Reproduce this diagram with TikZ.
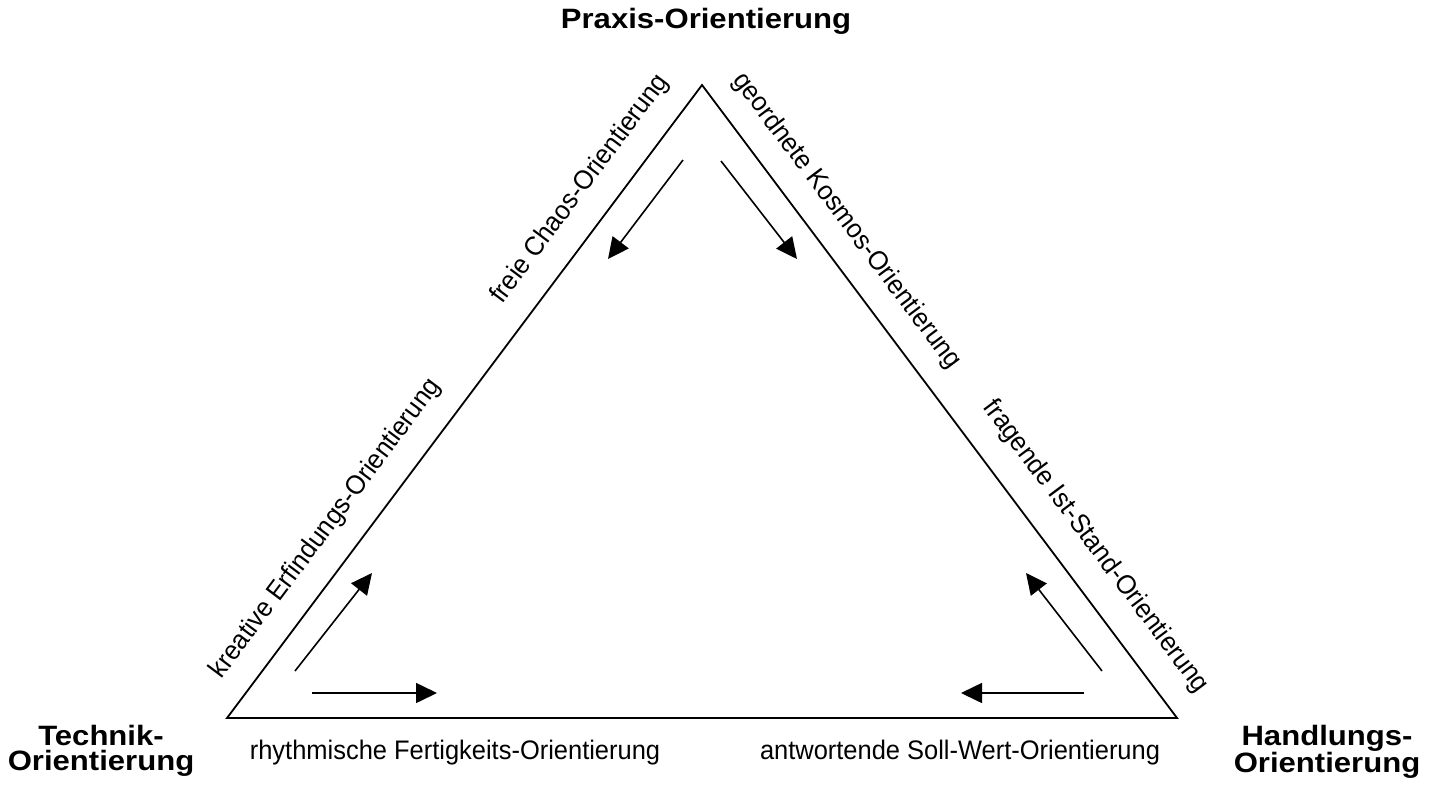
\documentclass[tikz,border=0pt]{standalone}
\usepackage{fontspec}
\setmainfont{Liberation Sans}
\newfontfamily\labfont[FakeStretch=0.95]{Liberation Sans}
\newfontfamily\headfont[FakeStretch=1.11]{Liberation Sans}
\usetikzlibrary{arrows.meta}
\begin{document}
\begin{tikzpicture}[x=1pt,y=-1pt,
  tri/.style={line width=1.8pt,line join=miter},
  arr/.style={line width=1.6pt,-{Triangle[length=21pt,width=20pt]}},
  lab/.style={inner sep=0pt,anchor=base,font=\labfont\fontsize{26.8}{30}\selectfont},
  head/.style={inner sep=0pt,align=center,font=\headfont\bfseries\fontsize{28}{25}\selectfont}]
\useasboundingbox (0,0) rectangle (1437,787);
% triangle corners
\coordinate (T) at (702,85);
\coordinate (BL) at (227,718);
\coordinate (BR) at (1177,718);
\draw[tri] (BL) -- (T) -- (BR) -- cycle;
% corner headings
\node[head,anchor=base] (praxis) at (706,28) {Praxis-Orientierung};
\node[head] (technik) at (101,751) {Technik-\\Orientierung};
\node[head] (handlung) at (1327,752) {Handlungs-\\Orientierung};
% edge labels
\node[lab,rotate=53.16] (kreativ) at (331.5,532.9) {kreative Erfindungs-Orientierung};
\node[lab,rotate=53.16] (chaos) at (585.9,193.2) {freie Chaos-Orientierung};
\node[lab,rotate=-53.16] (kosmos) at (841,225.2) {geordnete Kosmos-Orientierung};
\node[lab,rotate=-53.16] (iststand) at (1090,551) {fragende Ist-Stand-Orientierung};
\node[lab] (rhythm) at (455,759) {rhythmische Fertigkeits-Orientierung};
\node[lab] (soll) at (960,759) {antwortende Soll-Wert-Orientierung};
% arrows
\coordinate (a1s) at (683,160); \coordinate (a1e) at (608,259);
\coordinate (a2s) at (721,161); \coordinate (a2e) at (797,259);
\coordinate (a3s) at (295,671); \coordinate (a3e) at (372,573);
\coordinate (a4s) at (312,693); \coordinate (a4e) at (437,693);
\coordinate (a5s) at (1102,671); \coordinate (a5e) at (1026,573);
\coordinate (a6s) at (1084,693); \coordinate (a6e) at (961,693);
\draw[arr] (a1s) -- (a1e);
\draw[arr] (a2s) -- (a2e);
\draw[arr] (a3s) -- (a3e);
\draw[arr] (a4s) -- (a4e);
\draw[arr] (a5s) -- (a5e);
\draw[arr] (a6s) -- (a6e);
\end{tikzpicture}
\end{document}
